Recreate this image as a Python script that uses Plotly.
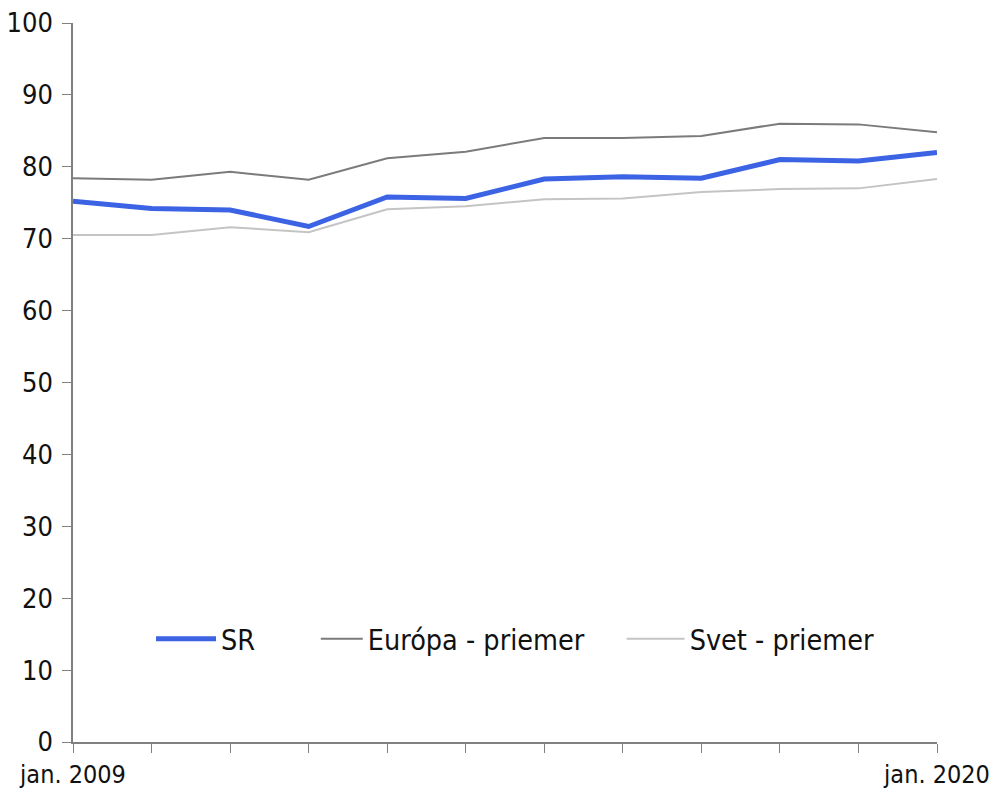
import plotly.graph_objects as go

# Yearly observations, January of each year
years = list(range(2009, 2021))
sr = [75.2, 74.2, 74.0, 71.7, 75.8, 75.6, 78.3, 78.6, 78.4, 81.0, 80.8, 82.0]
europa = [78.4, 78.2, 79.3, 78.2, 81.2, 82.1, 84.0, 84.0, 84.3, 86.0, 85.9, 84.8]
svet = [70.5, 70.5, 71.6, 70.9, 74.1, 74.5, 75.5, 75.6, 76.5, 76.9, 77.0, 78.3]

x_ticktext = ["jan. 2009"] + [""] * 10 + ["jan. 2020"]
y_ticks = list(range(0, 101, 10))

FONT = "DejaVu Sans Condensed, DejaVu Sans, sans-serif"

fig = go.Figure()
fig.add_trace(go.Scatter(x=years, y=sr, name="SR", mode="lines",
                         line=dict(color="#3b63e3", width=5), legend="legend"))
fig.add_trace(go.Scatter(x=years, y=europa, name="Európa - priemer", mode="lines",
                         line=dict(color="#7b7b7b", width=2), legend="legend2"))
fig.add_trace(go.Scatter(x=years, y=svet, name="Svet - priemer", mode="lines",
                         line=dict(color="#c4c4c4", width=2), legend="legend3"))


def legend_box(x, item_w):
    return dict(orientation="h", x=x, y=0.143, xanchor="left", yanchor="middle",
                bgcolor="rgba(0,0,0,0)", font=dict(size=28.5, color="#111111"),
                itemwidth=item_w)


fig.update_layout(
    width=992, height=789,
    margin=dict(l=73, r=55, t=23, b=47, autoexpand=False),
    paper_bgcolor="white", plot_bgcolor="white",
    font=dict(family=FONT, size=24, color="#111111"),
    showlegend=True,
    legend=legend_box(0.0903, 60),
    legend2=legend_box(0.281, 42),
    legend3=legend_box(0.635, 58),
    xaxis=dict(range=[2009, 2020], tickvals=years, ticktext=x_ticktext,
               automargin=False,
               showgrid=False, zeroline=False, showline=True,
               linecolor="#808080", linewidth=1.5,
               ticks="outside", ticklen=9, tickcolor="#808080", tickwidth=1.2,
               tickfont=dict(size=25)),
    yaxis=dict(range=[0, 100], tickvals=y_ticks, automargin=False,
               showgrid=False, zeroline=False, showline=True,
               linecolor="#808080", linewidth=1.5,
               ticks="outside", ticklen=9, tickcolor="#808080", tickwidth=1.2,
               ticklabelstandoff=4,
               tickfont=dict(size=27)),
)

fig.write_html("out.html")
